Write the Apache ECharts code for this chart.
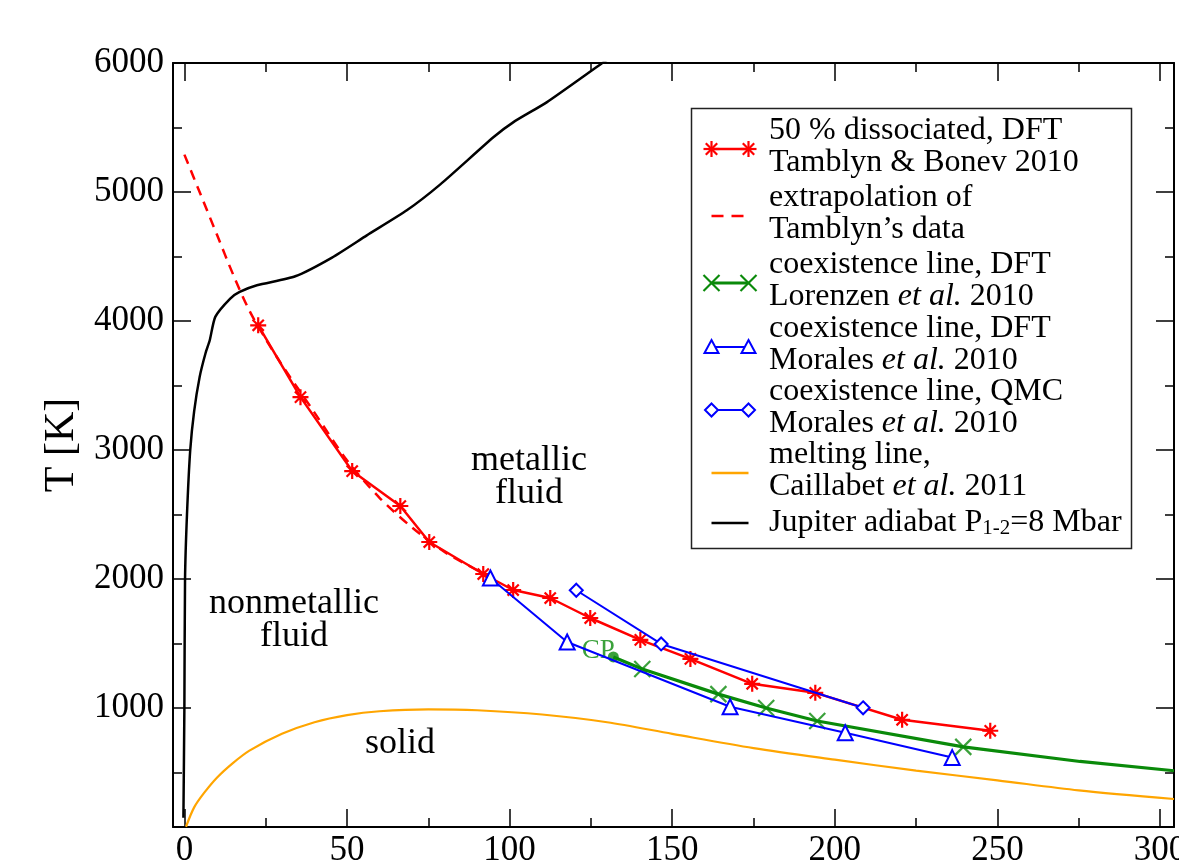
<!DOCTYPE html>
<html><head><meta charset="utf-8">
<script src="https://cdn.jsdelivr.net/npm/echarts@6/dist/echarts.min.js"></script>
<style>html,body{margin:0;padding:0;background:#fff}#c{width:1179px;height:867px}</style>
</head><body><div id="c"></div>
<script>
const FONT = '"Liberation Serif", "Times New Roman", serif';

// ---- data (pressure in GPa, temperature in K) ----
const tamblynP = [22.7, 35.7, 51.6, 66.4, 75.3, 91.9, 101.1, 112.5, 124.8, 140.2, 155.6, 174.6, 194.0, 220.7, 247.8];
const tamblynT = [3967, 3410, 2837, 2566, 2287, 2039, 1915, 1853, 1698, 1528, 1381, 1188, 1118, 909, 824];

const extrapP = [0, 5, 10, 15, 20, 25, 30, 40, 50, 60, 70, 80, 90, 96];
const extrapT = [5290, 4980, 4670, 4360, 4080, 3860, 3660, 3290, 2920, 2630, 2400, 2210, 2070, 2000];

const cpP = [131.9];
const cpT = [1396];
const lorenzenP = [140.8, 164.2, 178.9, 194.6, 239.5];
const lorenzenT = [1302, 1108, 1000, 900, 699];
const lorenzenExtP = [275.4, 304.3];
const lorenzenExtT = [586, 514];

const moralesDftP = [94.1, 117.7, 167.8, 203.2, 236.1];
const moralesDftT = [2008, 1512, 1010, 809, 616];

const moralesQmcP = [120.5, 146.6, 208.7];
const moralesQmcT = [1913, 1497, 1002];

const meltP = [0.5, 3, 6, 10, 15, 20, 30, 40, 50, 60, 75, 90, 110, 130, 150, 175, 200, 225, 250, 275, 304.3];
const meltT = [80, 230, 340, 460, 575, 670, 800, 890, 945, 975, 990, 983, 950, 890, 800, 690, 600, 515, 440, 362, 295];

const jupiterP = [-0.3, 0.0, 0.2, 0.8, 1.8, 3.0, 4.7, 6.5, 7.8, 9.5, 14.1, 17.0, 22.3, 34.1, 45.4, 56.1, 68.4, 78.7, 95.1, 101.2, 111.5, 128.4, 132.0];
const jupiterT = [150, 1000, 2000, 2500, 3000, 3300, 3567, 3750, 3851, 4032, 4174, 4225, 4277, 4347, 4492, 4664, 4858, 5059, 5426, 5542, 5697, 5998, 6060];

const xTickLabels = [0, 50, 100, 150, 200, 250, 300];
const xMinorTicks = [25, 75, 125, 175, 225, 275];
const yTickLabels = [1000, 2000, 3000, 4000, 5000, 6000];
const yMinorTicks = [500, 1500, 2500, 3500, 4500, 5500];

const legendEntries = [
  ['50 % dissociated, DFT', 'Tamblyn & Bonev 2010'],
  ['extrapolation of', 'Tamblyn\u2019s data'],
  ['coexistence line, DFT', 'Lorenzen {i|et al.} 2010'],
  ['coexistence line, DFT', 'Morales {i|et al.} 2010'],
  ['coexistence line, QMC', 'Morales {i|et al.} 2010'],
  ['melting line,', 'Caillabet {i|et al.} 2011'],
  ['Jupiter adiabat P{s|1-2}=8 Mbar']
];

// ---- helpers ----
const zip = (a, b) => a.map((v, i) => [v, b[i]]);
const X_MIN = -3.5, X_MAX = 304.3, Y_MIN = 78, Y_MAX = 6000;
const RED = '#ff0000', GREEN = '#0a8a0a', BLUE = '#0000ff', ORANGE = '#ffa500', BLACK = '#000000';

function xAx(pos, major, showLabel) {
  return {
    type: 'value', position: pos, min: X_MIN, max: X_MAX,
    axisLine: { show: major, onZero: false, lineStyle: { color: '#000', width: 2 } },
    axisTick: { show: true, inside: true, length: major ? 18 : 9, lineStyle: { color: '#000', width: 1.5 },
      customValues: major ? xTickLabels : xMinorTicks },
    axisLabel: { show: showLabel, customValues: xTickLabels, color: '#000', fontFamily: FONT, fontSize: 35, margin: 6,
      formatter: v => String(v) },
    splitLine: { show: false }, minorTick: { show: false }
  };
}
function yAx(pos, major, showLabel) {
  const o = {
    type: 'value', position: pos, min: Y_MIN, max: Y_MAX,
    axisLine: { show: major, onZero: false, lineStyle: { color: '#000', width: 2 } },
    axisTick: { show: true, inside: true, length: major ? 18 : 9, lineStyle: { color: '#000', width: 1.5 },
      customValues: major ? yTickLabels : yMinorTicks },
    axisLabel: { show: showLabel, customValues: yTickLabels, color: '#000', fontFamily: FONT, fontSize: 35, margin: 9,
      formatter: v => String(v) },
    splitLine: { show: false }, minorTick: { show: false }
  };
  if (showLabel) {
    o.name = 'T [K]'; o.nameLocation = 'middle'; o.nameGap = 85; o.nameRotate = 90;
    o.nameTextStyle = { color: '#000', fontFamily: FONT, fontSize: 42 };
  }
  return o;
}

const STAR = 'path://M10 0L10 20M0 10L20 10M3 3L17 17M3 17L17 3';
const CROSS = 'path://M0 0L20 20M0 20L20 0';

const series = [
  { name: 'melting', type: 'line', data: zip(meltP, meltT), smooth: 0.3, showSymbol: false,
    lineStyle: { color: ORANGE, width: 2.2 }, z: 2 },
  { name: 'jupiter', type: 'line', data: zip(jupiterP, jupiterT), smooth: 0.2, showSymbol: false,
    lineStyle: { color: BLACK, width: 2.5 }, z: 2 },
  { name: 'extrap', type: 'line', data: zip(extrapP, extrapT), smooth: 0.3, showSymbol: false,
    lineStyle: { color: RED, width: 2.5, type: [10, 7] }, z: 3 },
  { name: 'tamblyn', type: 'line', data: zip(tamblynP, tamblynT), symbol: STAR, symbolSize: 16,
    lineStyle: { color: RED, width: 2.5 }, itemStyle: { color: RED, borderColor: RED, borderWidth: 2.2 }, z: 4 },
  { name: 'lorenzenLine', type: 'line', data: zip(cpP.concat(lorenzenP, lorenzenExtP), cpT.concat(lorenzenT, lorenzenExtT)),
    showSymbol: false, lineStyle: { color: GREEN, width: 3.2 }, z: 5 },
  { name: 'lorenzen', type: 'scatter', data: zip(lorenzenP, lorenzenT), symbol: CROSS, symbolSize: 16,
    itemStyle: { color: GREEN, borderColor: GREEN, borderWidth: 2.2 }, z: 6 },
  { name: 'cp', type: 'scatter', data: zip(cpP, cpT), symbol: 'circle', symbolSize: 11,
    itemStyle: { color: GREEN }, z: 6,
    label: { show: true, position: [7, -1], align: 'right', verticalAlign: 'middle', formatter: 'CP',
      color: GREEN, fontFamily: FONT, fontSize: 27 } },
  { name: 'moralesDft', type: 'line', data: zip(moralesDftP, moralesDftT), symbol: 'triangle', symbolSize: 15,
    lineStyle: { color: BLUE, width: 2 }, itemStyle: { color: '#fff', borderColor: BLUE, borderWidth: 2 }, z: 7 },
  { name: 'moralesQmc', type: 'line', data: zip(moralesQmcP, moralesQmcT), symbol: 'diamond', symbolSize: 13,
    lineStyle: { color: BLUE, width: 2 }, itemStyle: { color: '#fff', borderColor: BLUE, borderWidth: 2 }, z: 7 }
];
series.forEach(s => { s.xAxisIndex = 0; s.yAxisIndex = 0; s.animation = false; s.clip = true; });

// ---- legend drawn with graphic elements ----
const LX0 = 711.5, LX1 = 748.5, TX = 769;
const legendY = [149, 216, 283, 347, 410, 473, 523];
function seg(x1, y1, x2, y2, color, w, dash) {
  return { type: 'line', shape: { x1, y1, x2, y2 }, style: { stroke: color, lineWidth: w, lineDash: dash || null }, z: 101 };
}
function starG(cx, cy) {
  const r = 8, d = 5.7;
  return [seg(cx, cy - r, cx, cy + r, RED, 2.2), seg(cx - r, cy, cx + r, cy, RED, 2.2),
          seg(cx - d, cy - d, cx + d, cy + d, RED, 2.2), seg(cx - d, cy + d, cx + d, cy - d, RED, 2.2)];
}
function crossG(cx, cy) {
  const r = 8;
  return [seg(cx - r, cy - r, cx + r, cy + r, GREEN, 2.2), seg(cx - r, cy + r, cx + r, cy - r, GREEN, 2.2)];
}
function triG(cx, cy) {
  return { type: 'polygon', shape: { points: [[cx, cy - 7], [cx + 7, cy + 6], [cx - 7, cy + 6]] },
    style: { fill: '#fff', stroke: BLUE, lineWidth: 2 }, z: 102 };
}
function diaG(cx, cy) {
  return { type: 'polygon', shape: { points: [[cx, cy - 6.5], [cx + 6.5, cy], [cx, cy + 6.5], [cx - 6.5, cy]] },
    style: { fill: '#fff', stroke: BLUE, lineWidth: 2 }, z: 102 };
}
const rich = {
  i: { fontFamily: FONT, fontSize: 32, fontStyle: 'italic', lineHeight: 32, fill: '#000' },
  s: { fontFamily: FONT, fontSize: 21, lineHeight: 14, verticalAlign: 'bottom', fill: '#000' }
};
const g = [];
g.push({ type: 'rect', shape: { x: 691.5, y: 108.5, width: 440, height: 440 },
  style: { fill: '#fff', stroke: '#222', lineWidth: 1.5 }, z: 100 });
g.push(seg(LX0, legendY[0], LX1, legendY[0], RED, 2.5)); g.push(...starG(LX0, legendY[0]), ...starG(LX1, legendY[0]));
g.push(seg(LX0, legendY[1], LX1, legendY[1], RED, 2.5, [12, 8]));
g.push(seg(LX0, legendY[2], LX1, legendY[2], GREEN, 3)); g.push(...crossG(LX0, legendY[2]), ...crossG(LX1, legendY[2]));
g.push(seg(LX0, legendY[3], LX1, legendY[3], BLUE, 2)); g.push(triG(LX0, legendY[3]), triG(LX1, legendY[3]));
g.push(seg(LX0, legendY[4], LX1, legendY[4], BLUE, 2)); g.push(diaG(LX0, legendY[4]), diaG(LX1, legendY[4]));
g.push(seg(LX0, legendY[5], LX1, legendY[5], ORANGE, 2.5));
g.push(seg(LX0, legendY[6], LX1, legendY[6], BLACK, 2.5));
legendEntries.forEach((lines, i) => {
  const yc = lines.length > 1 ? legendY[i] - 2 : legendY[i];
  g.push({ type: 'text', z: 103, style: { text: lines.join('\n'), x: TX, y: yc, fontFamily: FONT, fontSize: 32,
    lineHeight: 32, fill: '#000', verticalAlign: 'middle', align: 'left', rich } });
});
const regionText = [
  { t: 'metallic\nfluid', x: 529, y: 477 },
  { t: 'nonmetallic\nfluid', x: 294, y: 620 },
  { t: 'solid', x: 400, y: 744 }
];
regionText.forEach(r => g.push({ type: 'text', z: 50, style: { text: r.t, x: r.x, y: r.y, fontFamily: FONT, fontSize: 36,
  lineHeight: 33, fill: '#000', align: 'center', verticalAlign: 'middle' } }));

const chart = echarts.init(document.getElementById('c'), null, { renderer: 'canvas' });
chart.setOption({
  animation: false,
  backgroundColor: '#fff',
  grid: { left: 173, top: 63, right: 5, bottom: 40, containLabel: false, outerBoundsMode: 'none' },
  xAxis: [xAx('bottom', true, true), xAx('bottom', false, false), xAx('top', true, false), xAx('top', false, false)],
  yAxis: [yAx('left', true, true), yAx('left', false, false), yAx('right', true, false), yAx('right', false, false)],
  series,
  graphic: g
});
</script>
</body></html>
